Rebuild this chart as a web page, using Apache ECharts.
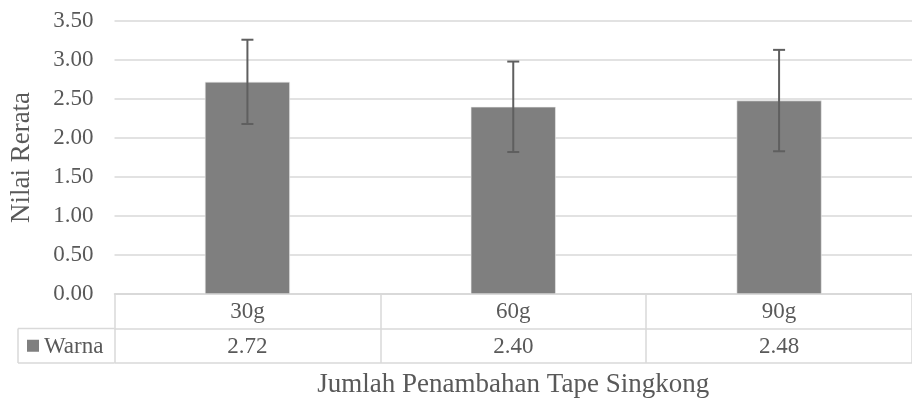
<!DOCTYPE html>
<html>
<head>
<meta charset="utf-8">
<script src="https://cdn.jsdelivr.net/npm/echarts@6/dist/echarts.min.js"></script>
<style>
html,body{margin:0;padding:0;background:#fff;}
#chart{width:912px;height:399px;}
</style>
</head>
<body>
<div id="chart"></div>
<script>
// ---- data ----
var categories = ['30g', '60g', '90g'];
var seriesName = 'Warna';
var values = [2.72, 2.40, 2.48];
var errLow = [2.18, 1.82, 1.83];
var errHigh = [3.26, 2.98, 3.13];
var yTicks = [0, 0.5, 1, 1.5, 2, 2.5, 3, 3.5];
var xTitle = 'Jumlah Penambahan Tape Singkong';
var yTitle = 'Nilai Rerata';

// ---- styles ----
var FONT = '"Liberation Serif", "Times New Roman", serif';
var TXT = '#595959';
var LINE = '#d9d9d9';
var BAR = '#7f7f7f';

var chart = echarts.init(document.getElementById('chart'), null, {renderer: 'canvas'});

var tableData = [];
categories.forEach(function (c, i) {
  tableData.push([i, 0.5, c]);
  tableData.push([i, 1.5, values[i].toFixed(2)]);
});

var option = {
  animation: false,
  grid: [
    {left: 114.5, top: 21, width: 808.5, height: 273},
    {left: 114.5, top: 294, width: 808.5, height: 69}
  ],
  xAxis: [
    {
      gridIndex: 0, type: 'category', data: categories,
      axisLine: {show: true, lineStyle: {color: LINE, width: 1.5}},
      axisTick: {show: false}, axisLabel: {show: false}, splitLine: {show: false}
    },
    {
      gridIndex: 1, type: 'category', data: categories, boundaryGap: true,
      axisLine: {show: false}, axisTick: {show: false}, axisLabel: {show: false},
      splitLine: {show: true, lineStyle: {color: LINE, width: 1.5}},
      name: xTitle, nameLocation: 'middle', nameGap: 8,
      nameTextStyle: {fontFamily: FONT, fontSize: 27, color: TXT}
    }
  ],
  yAxis: [
    {
      gridIndex: 0, type: 'value', min: 0, max: yTicks[yTicks.length - 1], interval: 0.5,
      axisLine: {show: false}, axisTick: {show: false},
      axisLabel: {
        fontFamily: FONT, fontSize: 23, color: TXT, margin: 21,
        formatter: function (v) { return v.toFixed(2); }
      },
      splitLine: {show: true, lineStyle: {color: LINE, width: 1.5}},
      name: yTitle, nameLocation: 'middle', nameGap: 79, nameRotate: 90,
      nameTextStyle: {fontFamily: FONT, fontSize: 27, color: TXT}
    },
    {
      gridIndex: 1, type: 'value', min: 0, max: 2, interval: 1, inverse: true,
      axisLine: {show: false}, axisTick: {show: false}, axisLabel: {show: false},
      splitLine: {show: true, lineStyle: {color: LINE, width: 1.5}}
    }
  ],
  series: [
    {
      name: seriesName, type: 'bar', xAxisIndex: 0, yAxisIndex: 0,
      data: values, barWidth: 85,
      itemStyle: {color: BAR, borderColor: '#ececec', borderWidth: 0.6}
    },
    {
      name: 'err', type: 'custom', xAxisIndex: 0, yAxisIndex: 0,
      data: categories.map(function (c, i) { return [i, errLow[i], errHigh[i]]; }),
      renderItem: function (params, api) {
        var x = api.value(0);
        var lo = api.coord([x, api.value(1)]);
        var hi = api.coord([x, api.value(2)]);
        var hw = 6;
        var st = {stroke: '#5f5f5f', lineWidth: 2};
        return {
          type: 'group',
          children: [
            {type: 'line', shape: {x1: lo[0], y1: lo[1], x2: hi[0], y2: hi[1]}, style: st},
            {type: 'line', shape: {x1: hi[0] - hw, y1: hi[1], x2: hi[0] + hw, y2: hi[1]}, style: st},
            {type: 'line', shape: {x1: lo[0] - hw, y1: lo[1], x2: lo[0] + hw, y2: lo[1]}, style: st}
          ]
        };
      },
      z: 5
    },
    {
      name: 'table', type: 'custom', xAxisIndex: 1, yAxisIndex: 1,
      data: tableData, clip: false,
      renderItem: function (params, api) {
        var p = api.coord([api.value(0), api.value(1)]);
        return {
          type: 'text',
          style: {
            text: tableData[params.dataIndex][2],
            x: p[0], y: p[1] + 1,
            textAlign: 'center', textVerticalAlign: 'middle',
            font: '23px ' + FONT, fill: TXT
          }
        };
      }
    },
    {
      name: 'legendCell', type: 'custom', xAxisIndex: 1, yAxisIndex: 1,
      data: [[0, 1.5]], clip: false,
      renderItem: function (params, api) {
        var c = api.coord([0, 1.5]);
        var top = api.coord([0, 1])[1];
        var bot = api.coord([0, 2])[1];
        var bw = api.size([1, 0])[0];
        var right = c[0] - bw / 2;
        var left = right - 96.5;
        return {
          type: 'group',
          children: [
            {type: 'line', shape: {x1: left, y1: top, x2: right, y2: top}, style: {stroke: LINE, lineWidth: 1.5}},
            {type: 'line', shape: {x1: left, y1: bot, x2: right, y2: bot}, style: {stroke: LINE, lineWidth: 1.5}},
            {type: 'line', shape: {x1: left, y1: top, x2: left, y2: bot}, style: {stroke: LINE, lineWidth: 1.5}},
            {type: 'rect', shape: {x: left + 9, y: c[1] - 6, width: 12, height: 12}, style: {fill: BAR}},
            {type: 'text', style: {text: seriesName, x: left + 26, y: c[1] + 1, textAlign: 'left', textVerticalAlign: 'middle', font: '23px ' + FONT, fill: TXT}}
          ]
        };
      }
    }
  ]
};
chart.setOption(option);
</script>
</body>
</html>
